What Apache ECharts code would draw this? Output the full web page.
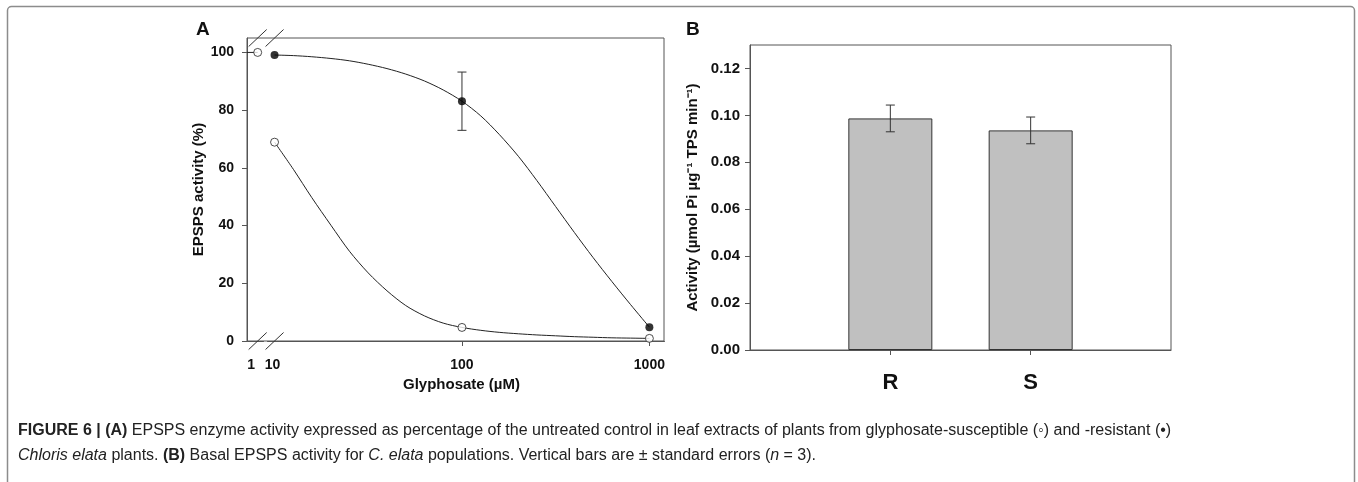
<!DOCTYPE html>
<html><head><meta charset="utf-8">
<script src="https://cdn.jsdelivr.net/npm/echarts@6/dist/echarts.min.js"></script>
<style>html,body{margin:0;padding:0;background:#fff}#c{width:1358px;height:482px}</style>
</head><body><div id="c"></div>
<script>
// ---------- Panel A data (glyphosate dose in µM; untreated control plotted at 1) ----------
const doseTicks = [1, 10, 100, 1000];
const doseTickLabels = ['1', '10', '100', '1000'];
const doseTickMarks = [100, 1000];
const pctTicks = [0, 20, 40, 60, 80, 100];
const resistantDose = [10, 100, 1000];
const resistantPct = [99.1, 83.1, 4.8];
const resistantErr = [0, 10.1, 0];
const susceptibleDose = [1, 10, 100, 1000];
const susceptiblePct = [100, 68.9, 4.7, 0.9];
// fitted dose-response curves
const curveDose = [10, 12.6, 15.8, 20, 25.1, 31.6, 39.8, 50.1, 63.1, 79.4, 100, 126, 158, 200, 251, 316, 398, 501, 631, 794, 1000];
const resistantCurvePct = [99.1, 98.9, 98.5, 97.9, 97.1, 95.9, 94.4, 92.5, 90.1, 87.0, 83.1, 78.0, 71.6, 64.0, 55.6, 46.6, 37.6, 28.9, 20.6, 12.6, 4.8];
const susceptibleCurvePct = [68.9, 59.5, 49.7, 40.1, 31.1, 23.6, 17.4, 12.3, 8.7, 6.2, 4.7, 3.7, 3.0, 2.5, 2.1, 1.8, 1.5, 1.3, 1.1, 1.0, 0.9];
const controlStubDose = [0.877, 1];
const controlStubPct = [100, 100];

// ---------- Panel B data ----------
const popCategories = ['R', 'S'];
const popActivity = [0.0987, 0.0936];
const popErr = [0.0057, 0.0057];
const activityTicks = [0, 0.02, 0.04, 0.06, 0.08, 0.10, 0.12];

const FONT = "'Liberation Sans', Arial, sans-serif";
const INK = '#222';
const AXIS = '#555';
const L = Math.log10;

const pairs = (xs, ys, f) => xs.map((x, i) => [f ? f(x) : x, ys[i]]);

const chart = echarts.init(document.getElementById('c'), null, {renderer: 'canvas'});

function errRender(capHalf) {
  return function (params, api) {
    const x = api.value(0), y = api.value(1), e = api.value(2);
    if (!e) return null;
    const top = api.coord([x, y + e]);
    const bot = api.coord([x, y - e]);
    const st = {stroke: '#333', lineWidth: 1};
    return {
      type: 'group',
      children: [
        {type: 'line', shape: {x1: top[0], y1: top[1], x2: bot[0], y2: bot[1]}, style: st},
        {type: 'line', shape: {x1: top[0] - capHalf, y1: top[1], x2: top[0] + capHalf, y2: top[1]}, style: st},
        {type: 'line', shape: {x1: bot[0] - capHalf, y1: bot[1], x2: bot[0] + capHalf, y2: bot[1]}, style: st}
      ]
    };
  };
}

const option = {
  animation: false,
  backgroundColor: '#fff',
  grid: [
    {left: 247, top: 38, right: 694, bottom: 141, show: true, borderColor: AXIS, borderWidth: 1},
    {left: 750, top: 45, right: 187, bottom: 132, show: true, borderColor: AXIS, borderWidth: 1}
  ],
  xAxis: [
    {
      gridIndex: 0, type: 'value', min: -0.057, max: 3.078,
      breaks: [{start: 0.03, end: 0.96, gap: 0.02}],
      breakArea: {show: false, itemStyle: {opacity: 0, borderWidth: 0}},
      splitLine: {show: false},
      axisLine: {onZero: false, lineStyle: {color: AXIS, width: 1}},
      axisTick: {show: true, customValues: doseTickMarks.map(L), length: 5, lineStyle: {color: AXIS}},
      axisLabel: {
        customValues: doseTicks.map(L), margin: 17,
        color: '#111', fontFamily: FONT, fontWeight: 'bold', fontSize: 14,
        formatter: v => {
          const i = doseTicks.findIndex(d => Math.abs(L(d) - v) < 1e-6);
          if (i < 0) return '';
          return i === 0 ? '{a|' + doseTickLabels[i] + '}' : (i === 1 ? '{c|' + doseTickLabels[i] + '}' : doseTickLabels[i]);
        },
        rich: {
          a: {fontFamily: FONT, fontWeight: 'bold', fontSize: 14, color: '#111', padding: [0, 13, 0, 0]},
          c: {fontFamily: FONT, fontWeight: 'bold', fontSize: 14, color: '#111', padding: [0, 4, 0, 0]}
        }
      },
      name: 'Glyphosate (µM)', nameLocation: 'middle', nameGap: 36,
      nameTextStyle: {color: '#111', fontFamily: FONT, fontWeight: 'bold', fontSize: 15, padding: [0, 0, 0, 12]}
    },
    {
      gridIndex: 1, type: 'value', min: 0, max: 3,
      splitLine: {show: false},
      axisLine: {onZero: false, lineStyle: {color: AXIS, width: 1}},
      axisTick: {show: true, customValues: [1, 2], length: 5, lineStyle: {color: AXIS}},
      axisLabel: {
        customValues: [1, 2], margin: 22,
        color: '#111', fontFamily: FONT, fontWeight: 'bold', fontSize: 22,
        formatter: v => popCategories[Math.round(v) - 1] || ''
      }
    }
  ],
  yAxis: [
    {
      gridIndex: 0, type: 'value', min: 0, max: 105,
      splitLine: {show: false},
      axisLine: {show: true, onZero: false, lineStyle: {color: AXIS, width: 1}},
      axisTick: {show: true, customValues: pctTicks, length: 5, lineStyle: {color: AXIS}},
      axisLabel: {customValues: pctTicks, margin: 13, color: '#111', fontFamily: FONT, fontWeight: 'bold', fontSize: 14},
      name: 'EPSPS activity (%)', nameLocation: 'middle', nameGap: 36, nameRotate: 90,
      nameTextStyle: {color: '#111', fontFamily: FONT, fontWeight: 'bold', fontSize: 15}
    },
    {
      gridIndex: 1, type: 'value', min: 0, max: 0.13,
      splitLine: {show: false},
      axisLine: {show: true, onZero: false, lineStyle: {color: AXIS, width: 1}},
      axisTick: {show: true, customValues: activityTicks, length: 5, lineStyle: {color: AXIS}},
      axisLabel: {customValues: activityTicks, margin: 10, color: '#111', fontFamily: FONT, fontWeight: 'bold', fontSize: 15,
        formatter: v => v.toFixed(2)},
      name: 'Activity (µmol Pi µg⁻¹ TPS min⁻¹)', nameLocation: 'middle', nameGap: 50, nameRotate: 90,
      nameTextStyle: {color: '#111', fontFamily: FONT, fontWeight: 'bold', fontSize: 15}
    }
  ],
  series: [
    {type: 'line', xAxisIndex: 0, yAxisIndex: 0, data: pairs(curveDose, resistantCurvePct, L),
      smooth: 0.3, showSymbol: false, lineStyle: {color: INK, width: 1}, z: 2},
    {type: 'line', xAxisIndex: 0, yAxisIndex: 0, data: pairs(curveDose, susceptibleCurvePct, L),
      smooth: 0.3, showSymbol: false, lineStyle: {color: INK, width: 1}, z: 2},
    {type: 'line', xAxisIndex: 0, yAxisIndex: 0, data: pairs(controlStubDose, controlStubPct, L),
      showSymbol: false, lineStyle: {color: INK, width: 1}, z: 2},
    {type: 'custom', xAxisIndex: 0, yAxisIndex: 0, renderItem: errRender(4.5),
      data: resistantDose.map((d, i) => [L(d), resistantPct[i], resistantErr[i]]), z: 3},
    {type: 'scatter', xAxisIndex: 0, yAxisIndex: 0, data: pairs(susceptibleDose, susceptiblePct, L),
      symbol: 'circle', symbolSize: 8, itemStyle: {color: '#fff', borderColor: INK, borderWidth: 1}, z: 4},
    {type: 'scatter', xAxisIndex: 0, yAxisIndex: 0, data: pairs(resistantDose, resistantPct, L),
      symbol: 'circle', symbolSize: 8, itemStyle: {color: '#000'}, z: 5},
    {type: 'bar', xAxisIndex: 1, yAxisIndex: 1, data: popActivity.map((v, i) => [i + 1, v]),
      barWidth: 84, itemStyle: {color: '#c0c0c0', borderColor: '#333', borderWidth: 1}, z: 2},
    {type: 'custom', xAxisIndex: 1, yAxisIndex: 1, renderItem: errRender(4.5),
      data: popActivity.map((v, i) => [i + 1, v, popErr[i]]), z: 3}
  ]
};
chart.setOption(option);

// broken-axis marks and annotations
const gA = chart.getModel().getComponent('grid', 0).coordinateSystem.getRect();
const slashX = [1, 10].map(d => chart.convertToPixel({xAxisIndex: 0}, L(d)));
const slashes = [];
slashX.forEach(x => {
  [gA.y, gA.y + gA.height].forEach(y => {
    slashes.push({type: 'line', shape: {x1: x - 9, y1: y + 8.5, x2: x + 9, y2: y - 8.5},
      style: {stroke: '#333', lineWidth: 1}, z: 10});
  });
});

chart.setOption({
  graphic: [
    {type: 'rect', shape: {x: 7.5, y: 6.5, width: 1347, height: 520, r: 4},
      style: {fill: null, stroke: '#8c8c8c', lineWidth: 1.5}, z: 0, silent: true},
    ...slashes,
    {type: 'text', left: 196, top: 20, style: {text: 'A', font: 'bold 19px ' + FONT, fill: '#111'}},
    {type: 'text', left: 686, top: 20, style: {text: 'B', font: 'bold 19px ' + FONT, fill: '#111'}},
    {type: 'text', left: 18, top: 418, style: {
      text: '{b|FIGURE 6 | (A)} EPSPS enzyme activity expressed as percentage of the untreated control in leaf extracts of plants from glyphosate-susceptible (◦) and -resistant (•)\n{i|Chloris elata} plants. {b|(B)} Basal EPSPS activity for {i|C. elata} populations. Vertical bars are ± standard errors ({i|n} = 3).',
      font: '16px ' + FONT, fill: '#222', lineHeight: 25,
      rich: {
        b: {fontWeight: 'bold', fontSize: 16, fontFamily: FONT, fill: '#222', lineHeight: 25},
        i: {fontStyle: 'italic', fontSize: 16, fontFamily: FONT, fill: '#222', lineHeight: 25}
      }
    }}
  ]
});
</script></body></html>
